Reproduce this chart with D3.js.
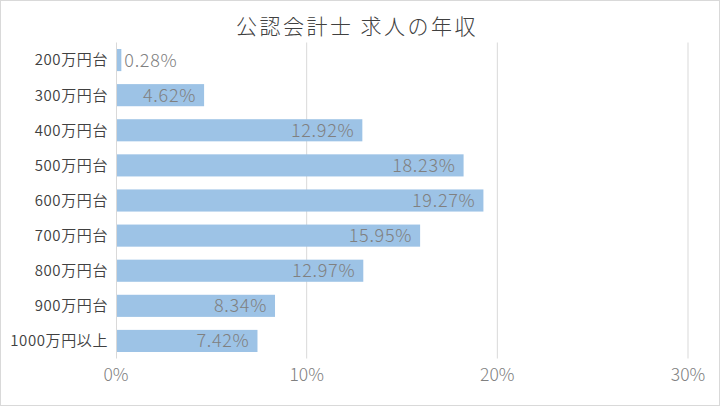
<!DOCTYPE html>
<html><head><meta charset="utf-8">
<script src="https://cdn.jsdelivr.net/npm/d3@7"></script>
<style>
html,body{margin:0;padding:0;background:#fff;}
svg{display:block;font-family:"Noto Sans CJK JP","Noto Sans",sans-serif;}
</style></head><body>
<svg id="c" width="720" height="406"></svg>
<script>
const categories = ["200万円台","300万円台","400万円台","500万円台","600万円台","700万円台","800万円台","900万円台","1000万円以上"];
const values = [0.28, 4.62, 12.92, 18.23, 19.27, 15.95, 12.97, 8.34, 7.42];
const ticks = [0, 10, 20, 30];
const title = "公認会計士 求人の年収";

const svg = d3.select("#c");
const W = 720, H = 406;
const m = {left:116, right:32, top:42.5, bottom:47.5};

svg.append("rect").attr("x",0.5).attr("y",0.5).attr("width",W-1).attr("height",H-1)
  .attr("fill","#fff").attr("stroke","#d9d9d9");

const x = d3.scaleLinear().domain([0,30]).range([m.left, 688]);
const y = d3.scaleBand().domain(categories).range([m.top, H-m.bottom]).paddingInner(0.37).paddingOuter(0.185);

// gridlines
svg.append("g").selectAll("line").data(ticks.slice(1)).join("line")
  .attr("x1",d=>x(d)).attr("x2",d=>x(d)).attr("y1",m.top).attr("y2",H-m.bottom)
  .attr("stroke","#d9d9d9").attr("stroke-width",1);

// bars
svg.append("g").selectAll("rect").data(values).join("rect")
  .attr("x",x(0)).attr("y",(d,i)=>y(categories[i]))
  .attr("width",d=>x(d)-x(0)).attr("height",y.bandwidth())
  .attr("fill","#9dc3e6");

// vertical axis line
svg.append("line").attr("x1",x(0)+0.5).attr("x2",x(0)+0.5).attr("y1",m.top).attr("y2",H-m.bottom)
  .attr("stroke","#d9d9d9");

// data labels
svg.append("g").selectAll("text").data(values).join("text")
  .attr("x",d=> d<2 ? x(d)+3 : x(d)-8)
  .attr("y",(d,i)=>y(categories[i])+y.bandwidth()/2)
  .attr("dy","0.36em")
  .attr("text-anchor",d=> d<2 ? "start":"end")
  .attr("fill","#808080").attr("font-size",18).attr("letter-spacing",0.7).attr("font-weight",300)
  .text(d=>d.toFixed(2)+"%");

// category labels
svg.append("g").selectAll("text").data(categories).join("text")
  .attr("x",x(0)-8).attr("y",d=>y(d)+y.bandwidth()/2).attr("dy","0.36em")
  .attr("text-anchor","end").attr("fill","#404040").attr("font-size",15).attr("letter-spacing",0.6).attr("font-weight",350)
  .text(d=>d);

// x tick labels
svg.append("g").selectAll("text").data(ticks).join("text")
  .attr("x",d=>x(d)).attr("y",375).attr("dy","0.36em")
  .attr("text-anchor","middle").attr("fill","#808080").attr("font-size",17.5).attr("font-weight",300)
  .text(d=>d+"%");

// title
svg.append("text").attr("x",357).attr("y",26).attr("dy","0.36em").attr("text-anchor","middle")
  .attr("fill","#404040").attr("font-size",21).attr("letter-spacing",2.5).attr("font-weight",300)
  .text(title);
</script>
</body></html>
